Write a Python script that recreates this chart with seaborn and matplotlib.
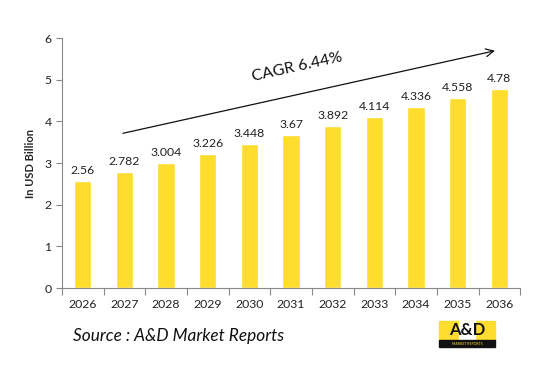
import matplotlib
matplotlib.use("Agg")
import matplotlib.pyplot as plt
import matplotlib.patches as mpatches
import seaborn as sns
import pandas as pd

years = ["2026", "2027", "2028", "2029", "2030", "2031", "2032", "2033", "2034", "2035", "2036"]
values = [2.56, 2.782, 3.004, 3.226, 3.448, 3.67, 3.892, 4.114, 4.336, 4.558, 4.78]
value_labels = ["2.56", "2.782", "3.004", "3.226", "3.448", "3.67", "3.892", "4.114", "4.336", "4.558", "4.78"]
cagr_text = "CAGR 6.44%"

sns.set_theme(style="white")
plt.rcParams["font.family"] = ["Lato", "DejaVu Sans"]

df = pd.DataFrame({"year": years, "value": values})

fig = plt.figure(figsize=(5.43, 3.66), dpi=100)
ax = fig.add_axes([0.114, 0.213, 0.844, 0.683])

sns.barplot(data=df, x="year", y="value", color="#FFDD2E", saturation=1,
            width=0.42, ax=ax)

for i, (v, lab) in enumerate(zip(values, value_labels)):
    ax.text(i, v + 0.12, lab, ha="center", va="bottom", fontsize=8.8, color="#222222")

ax.set_ylim(0, 6)
ax.set_xlim(-0.5, len(years) - 0.5)
ax.set_yticks(range(0, 7))
ax.set_xlabel("")
ax.set_ylabel("In USD Billion", fontsize=8, fontweight="bold", labelpad=6)
ax.tick_params(axis="both", labelsize=8.8, colors="#222222", length=4, width=0.8)
ax.tick_params(axis="x", length=0, pad=8)

# category boundary ticks on the x axis
ax.set_xticks([i - 0.5 for i in range(len(years) + 1)], minor=True)
ax.tick_params(axis="x", which="minor", length=5, width=0.8, color="#888888", bottom=True)
ax.tick_params(axis="y", left=True, color="#888888")

for s in ["top", "right"]:
    ax.spines[s].set_visible(False)
for s in ["left", "bottom"]:
    ax.spines[s].set_color("#888888")
    ax.spines[s].set_linewidth(0.8)

ax.annotate("", xy=(9.96, 5.71), xytext=(0.9, 3.7),
            arrowprops=dict(arrowstyle="->", color="#111111", lw=0.9,
                            mutation_scale=14))
ax.text(5.15, 5.3, cagr_text, rotation=12.5, ha="center", va="center",
        fontsize=11.5, color="#111111")

fig.text(0.135, 0.082, "Source : A&D Market Reports", fontsize=12.4,
         style="italic", color="#111111", va="center")

# logo
fig.patches.append(mpatches.Rectangle((0.809, 0.07), 0.103, 0.054,
                                      transform=fig.transFigure, color="#FFDD2E"))
fig.patches.append(mpatches.Rectangle((0.846, 0.07), 0.029, 0.054,
                                      transform=fig.transFigure, color="white"))
fig.patches.append(mpatches.Rectangle((0.809, 0.052), 0.103, 0.018,
                                      transform=fig.transFigure, color="#111111"))
fig.text(0.86, 0.097, "A&D", ha="center", va="center", fontsize=12,
         fontweight="bold", color="#111111")
fig.text(0.86, 0.061, "MARKET REPORTS", ha="center", va="center", fontsize=2.5,
         color="#FFDD2E")

fig.savefig("out.png", dpi=100)
